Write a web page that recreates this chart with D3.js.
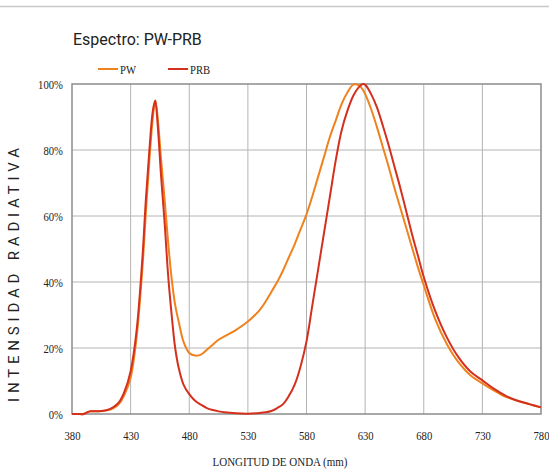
<!DOCTYPE html>
<html>
<head>
	<meta http-equiv="Content-Type" content="text/html;charset=utf-8">
	<title>Espectro PW-PRB</title>
	<script src="https://d3js.org/d3.v7.min.js"></script>
	<style type="text/css">
		body { margin: 0; background: #fff; }
		.grid line { stroke: #b4b4b4; stroke-width: 1px; }
		.serif { font-family: "Liberation Serif", "Times New Roman", serif; fill: #222; }
	</style>
</head>
<body>
	<svg width="549" height="471"></svg>

	<script type="text/javascript">
		// wavelength (nm) and relative intensity (%)
		var wavelengths = [380,385,390,395,400,405,410,415,420,425,430,435,440,443,446,449,451,453,456,459,462,465,468,471,475,480,485,490,495,500,505,510,520,530,540,545,550,555,560,565,570,575,580,585,590,595,600,605,610,615,620,625,628,630,635,640,645,650,655,660,665,670,675,680,690,700,710,720,730,740,750,760,770,780];
		var pw  = [0,0,0,0.8,0.8,0.9,1.1,1.7,3,6,11,23,44,61,77,90,95,90,77,65,52,41,33,28,22,18.5,17.7,18,19.5,21,22.5,23.5,25.5,28,31.5,34,37,40,43.5,47.5,51.5,56,60.5,66,72,78,84,89,94,97.5,99.8,99.5,98.3,97,92.5,87,81,75,68.5,62.5,56.5,50.5,44.5,39,28.5,21,15.5,11.7,9.3,7.1,5.2,4,3,2];
		var prb = [0,0,0,0.8,0.8,0.9,1.2,2,3.5,7,13,25,47,65,80,92,95,88,72,58,42,30,20,14,9,6,4,2.8,1.8,1.2,0.8,0.5,0.2,0.1,0.3,0.5,0.9,1.8,3,5.5,9,14.5,22,33,44,55,66,77,86,92,96.5,99.2,100,99.8,97,93,87.5,81.5,75,68.5,61.5,54.5,48,41.5,31,23,17,12.8,10.2,7.6,5.5,4,3,2];
		var xTicks = [380,430,480,530,580,630,680,730,780];
		var yTicks = [0,20,40,60,80,100];

		var svg = d3.select("svg");
		var pLeft = 72, pRight = 541, pTop = 84, pBottom = 414;

		var x = d3.scaleLinear().domain([380, 780]).range([pLeft, pRight]);
		var y = d3.scaleLinear().domain([0, 100]).range([pBottom, pTop]);

		// thin rule across the top of the card
		svg.append("line").attr("x1", 0).attr("x2", 549).attr("y1", 6.5).attr("y2", 6.5)
			.attr("stroke", "#c8c8c8").attr("stroke-width", 1.5);

		svg.append("text").attr("x", 73).attr("y", 45)
			.style("font-family", "Roboto, 'DejaVu Sans', sans-serif").style("font-size", "16px").style("fill", "#222")
			.text("Espectro: PW-PRB");

		// grid
		var grid = svg.append("g").attr("class", "grid");
		grid.selectAll(".v").data(xTicks.slice(1, -1)).enter().append("line")
			.attr("x1", function (d) { return x(d); }).attr("x2", function (d) { return x(d); })
			.attr("y1", pTop).attr("y2", pBottom);
		grid.selectAll(".h").data(yTicks.slice(1, -1)).enter().append("line")
			.attr("y1", function (d) { return y(d); }).attr("y2", function (d) { return y(d); })
			.attr("x1", pLeft).attr("x2", pRight);

		svg.append("rect").attr("x", pLeft).attr("y", pTop).attr("width", pRight - pLeft).attr("height", pBottom - pTop)
			.attr("fill", "none").attr("stroke", "#8c8c8c").attr("stroke-width", 1.5);

		// axes (labels only)
		var xAxis = svg.append("g").attr("transform", "translate(0," + pBottom + ")")
			.call(d3.axisBottom(x).tickValues(xTicks).tickSize(0).tickPadding(17));
		var yAxis = svg.append("g").attr("transform", "translate(" + pLeft + ",0)")
			.call(d3.axisLeft(y).tickValues(yTicks).tickSize(0).tickPadding(9).tickFormat(function (d) { return d + "%"; }));
		[xAxis, yAxis].forEach(function (a) {
			a.select(".domain").remove();
			a.attr("font-family", null).attr("font-size", null);
			a.selectAll("text").attr("class", "serif").style("font-size", "13px")
				.each(function () {
					var w = this.getComputedTextLength();
					d3.select(this).attr("textLength", w * 0.82).attr("lengthAdjust", "spacingAndGlyphs");
				});
		});

		var line = d3.line()
			.x(function (d) { return x(d[0]); })
			.y(function (d) { return y(d[1]); })
			.curve(d3.curveCatmullRom.alpha(0.5));

		var series = [
			{ name: "PW", values: pw, color: "#f0821e" },
			{ name: "PRB", values: prb, color: "#d4301e" }
		];

		series.forEach(function (s) {
			svg.append("path")
				.datum(wavelengths.map(function (w, i) { return [w, s.values[i]]; }))
				.attr("fill", "none").attr("stroke", s.color).attr("stroke-width", 2)
				.attr("d", line);
		});

		// legend
		var legendX = [98, 168];
		series.forEach(function (s, i) {
			svg.append("line").attr("x1", legendX[i]).attr("x2", legendX[i] + 20).attr("y1", 69).attr("y2", 69)
				.attr("stroke", s.color).attr("stroke-width", 2);
			var t = svg.append("text").attr("class", "serif").attr("x", legendX[i] + 22).attr("y", 73.5)
				.style("font-size", "13px").text(s.name);
			t.attr("textLength", t.node().getComputedTextLength() * 0.82).attr("lengthAdjust", "spacingAndGlyphs");
		});

		// axis titles
		var xt = svg.append("text").attr("class", "serif").attr("x", 280).attr("y", 466)
			.attr("text-anchor", "middle").style("font-size", "13px").text("LONGITUD DE ONDA (mm)");
		xt.attr("textLength", 135).attr("lengthAdjust", "spacingAndGlyphs");

		svg.append("text")
			.attr("transform", "translate(19,275) rotate(-90)")
			.attr("text-anchor", "middle")
			.style("font-family", "Roboto, 'DejaVu Sans', sans-serif").style("font-size", "15px").style("fill", "#222")
			.attr("textLength", 254).attr("lengthAdjust", "spacing")
			.text("INTENSIDAD RADIATIVA");
	</script>
</body>
</html>
